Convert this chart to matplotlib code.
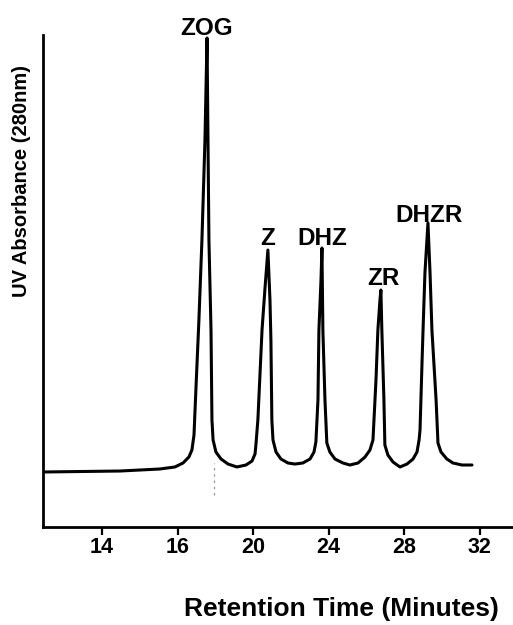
import numpy as np
import matplotlib
matplotlib.use("Agg")
import matplotlib.pyplot as plt

# Retention-time axis labels (minutes) and the chromatogram trace
tick_minutes = [14, 16, 20, 24, 28, 32]

trace_time = [
    12.44, 14.48, 15.53, 15.93, 16.29, 16.60, 16.76, 16.87, 16.97, 17.13, 17.29, 17.45, 17.56,
    17.61, 17.66, 17.77, 17.82, 17.88, 18.03, 18.30, 18.67, 19.14, 19.62, 19.94, 20.10, 20.15,
    20.25, 20.47, 20.62, 20.78,
    20.89, 20.94, 20.99, 21.05, 21.21, 21.47, 21.84, 22.21, 22.63, 23.01, 23.22, 23.32, 23.43,
    23.48, 23.59, 23.64,
    23.69, 23.80, 23.90, 24.06, 24.33, 24.75, 25.12, 25.55, 25.92, 26.18, 26.34, 26.50, 26.60,
    26.71, 26.76,
    26.81, 26.92, 26.97, 27.13, 27.40, 27.77, 28.14, 28.46, 28.67, 28.78, 28.83, 28.94, 28.99,
    29.09, 29.25,
    29.36, 29.46, 29.68, 29.78, 29.94, 30.25, 30.57, 31.05, 31.58,
]
trace_absorbance = [
    11.18, 11.38, 11.79, 12.20, 13.01, 14.23, 15.65, 18.70, 27.85, 42.07, 58.33, 78.66, 99.39,
    78.66, 58.33, 40.04, 21.75, 17.68, 15.24, 13.82, 12.80, 12.20, 12.60, 13.41, 14.84, 16.87,
    21.75, 40.04, 48.17, 56.30,
    46.14, 38.01, 21.75, 17.68, 15.24, 13.82, 13.01, 12.80, 13.01, 13.82, 15.24, 17.28, 25.81,
    40.04, 50.20, 56.71,
    40.04, 25.81, 17.07, 15.24, 13.82, 13.01, 12.60, 13.01, 14.23, 15.65, 17.68, 29.88, 40.04,
    46.14, 48.17,
    40.04, 25.81, 16.67, 14.63, 13.21, 12.20, 12.80, 13.82, 15.24, 17.68, 19.72, 33.94, 40.04,
    51.63, 61.79,
    51.63, 40.04, 25.81, 17.07, 15.24, 13.82, 13.01, 12.60, 12.60,
]

# Identified compounds at their peak apexes
peak_names = ["ZOG", "Z", "DHZ", "ZR", "DHZR"]
peak_times = [17.56, 20.78, 23.64, 26.76, 29.25]
peak_heights = [99.39, 56.30, 56.71, 48.17, 61.79]

# Faint marker below the first peak
marker_time = 17.93
marker_range = [6.5, 13.0]

# Axis placement of the labels
tick_pos = [0, 1, 2, 3, 4, 5]
minutes_ext = [10] + tick_minutes + [40]
pos_ext = [-2] + tick_pos + [7]


def forward(t):
    return np.interp(t, minutes_ext, pos_ext)


def inverse(p):
    return np.interp(p, pos_ext, minutes_ext)


font = "Liberation Sans"

fig = plt.figure(figsize=(5.13, 6.25), dpi=100)
ax = fig.add_axes([43 / 513, 98 / 625, 470 / 513, 492 / 625])
ax.set_xscale("function", functions=(forward, inverse))

ax.plot(trace_time, trace_absorbance, color="black", lw=2.2,
        solid_joinstyle="round", solid_capstyle="round")
ax.plot([marker_time, marker_time], marker_range, color="#9a9a9a", lw=0.9,
        ls=(0, (2, 3)))

ax.set_xlim(12.44, 33.75)
ax.set_ylim(0, 100)

ax.set_xticks(tick_minutes)
ax.set_xticklabels([str(t) for t in tick_minutes], fontfamily=font,
                   fontweight="bold", fontsize=15.5)
ax.minorticks_off()
ax.tick_params(axis="x", direction="out", length=6, width=1.6, pad=1.5)
ax.set_yticks([])

for side in ("top", "right"):
    ax.spines[side].set_visible(False)
for side in ("left", "bottom"):
    ax.spines[side].set_linewidth(2.0)

label_offsets = {"ZOG": (0, 2), "Z": (0, 3.5), "DHZ": (0, 2), "ZR": (1.5, 3.5), "DHZR": (1, 0.8)}
for name, t, h in zip(peak_names, peak_times, peak_heights):
    ax.annotate(name, xy=(t, h), xytext=label_offsets[name], textcoords="offset points",
                ha="center", va="baseline", fontfamily=font, fontweight="bold",
                fontsize=17.5)

ax.set_xlabel("Retention Time (Minutes)", fontfamily=font, fontweight="bold",
              fontsize=19)
ax.xaxis.set_label_coords((341 - 43) / 470, (527 - 597) / 492)
ax.xaxis.label.set_va("top")

ax.set_ylabel("UV Absorbance (280nm)", fontfamily=font, fontweight="bold",
              fontsize=14.5)
ax.yaxis.set_label_coords((22 - 43) / 470, (527 - 181) / 492)
ax.yaxis.label.set_va("center")

fig.savefig("out.png", dpi=100)
